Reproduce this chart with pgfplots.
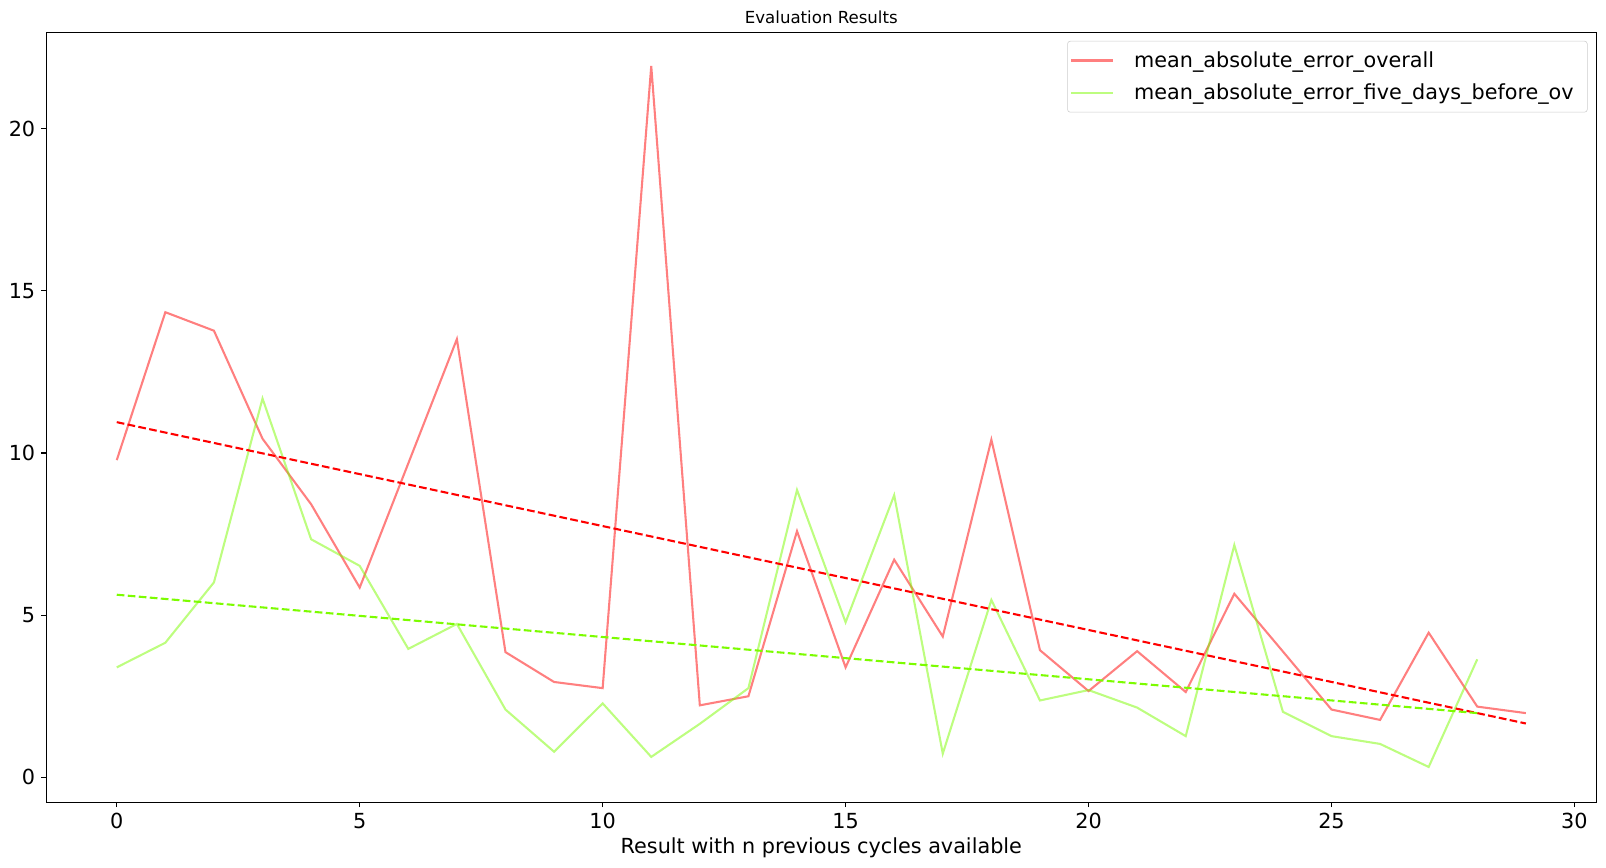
\documentclass[border=0pt]{standalone}
\usepackage{fontspec}
\setmainfont{DejaVu Sans}
\usepackage{pgfplots}
\usepackage{pgfplotstable}
\pgfplotsset{compat=1.18}

\pgfplotstableread{
x y
0 9.78
1 14.34
2 13.77
3 10.44
4 8.42
5 5.85
6 9.68
7 13.51
8 3.86
9 2.94
10 2.75
11 21.93
12 2.22
13 2.50
14 7.59
15 3.39
16 6.71
17 4.34
18 10.41
19 3.92
20 2.66
21 3.89
22 2.63
23 5.66
24 3.88
25 2.09
26 1.77
27 4.46
28 2.18
29 1.98
}\overall

\pgfplotstableread{
x y
0 3.39
1 4.15
2 6.01
3 11.68
4 7.34
5 6.52
6 3.96
7 4.73
8 2.09
9 0.79
10 2.28
11 0.63
12 1.65
13 2.75
14 8.86
15 4.78
16 8.70
17 0.73
18 5.47
19 2.37
20 2.69
21 2.15
22 1.27
23 7.16
24 2.02
25 1.27
26 1.03
27 0.32
28 3.64
}\fivedays

\pgfplotstableread{
x y
0 10.95
29 1.66
}\trendoverall

\pgfplotstableread{
x y
0 5.63
28 1.98
}\trendfive

\definecolor{lgreen}{HTML}{7CFC00}

\begin{document}
\begin{tikzpicture}
\begin{axis}[
  scale only axis,
  width=1116bp, height=554.4bp,
  xmin=-1.45, xmax=30.45,
  ymin=-0.77, ymax=22.97,
  xtick={0,5,...,30}, ytick={0,5,...,20},
  tick pos=left,
  tick align=outside,
  major tick length=3.5bp,
  every tick/.style={black, line width=0.8bp},
  axis line style={line width=0.8bp},
  tick label style={font=\fontsize{15}{18}\selectfont},
  /pgf/number format/assume math mode=true,
  xticklabel style={yshift=-1bp},
  yticklabel style={xshift=-1bp},
  title={Evaluation Results},
  title style={font=\fontsize{12}{14}\selectfont, at={(0.5,1)}, anchor=base, yshift=0.3bp, inner sep=0pt},
  xlabel={Result with n previous cycles available},
  xlabel style={font=\fontsize{15}{18}\selectfont, inner sep=0pt, anchor=north, yshift=-2.5bp},
  legend style={at={(1,1)}, anchor=north east, xshift=-6.3bp, yshift=-6.2bp,
    draw=black!20, rounded corners=2pt, fill=white,
    font=\fontsize{15}{18}\selectfont, inner xsep=2pt, inner ysep=5.5pt,
    row sep=6.5bp},
  legend cell align=left,
  legend image code/.code={\draw[#1] (0pt,0pt) -- (30bp,0pt); \path (42.5bp,0pt);},
]
\addplot[red, draw opacity=0.5, line width=1.5bp] table[x=x,y=y] {\overall};
\addlegendentry{mean\_absolute\_error\_overall}
\addplot[lgreen, draw opacity=0.5, line width=1.5bp] table[x=x,y=y] {\fivedays};
\addlegendentry{mean\_absolute\_error\_five\_days\_before\_ov\hspace*{5.8bp}}
\addplot[red, line width=1.5bp, dash pattern=on 5.55bp off 2.4bp, forget plot] table[x=x,y=y] {\trendoverall};
\addplot[lgreen, line width=1.5bp, dash pattern=on 5.55bp off 2.4bp, forget plot] table[x=x,y=y] {\trendfive};
\end{axis}
\pgfresetboundingbox
\useasboundingbox ([xshift=-33.34bp, yshift=-46.58bp]current axis.south west) rectangle ([xshift=6.98bp, yshift=23.26bp]current axis.north east);
\end{tikzpicture}
\end{document}
